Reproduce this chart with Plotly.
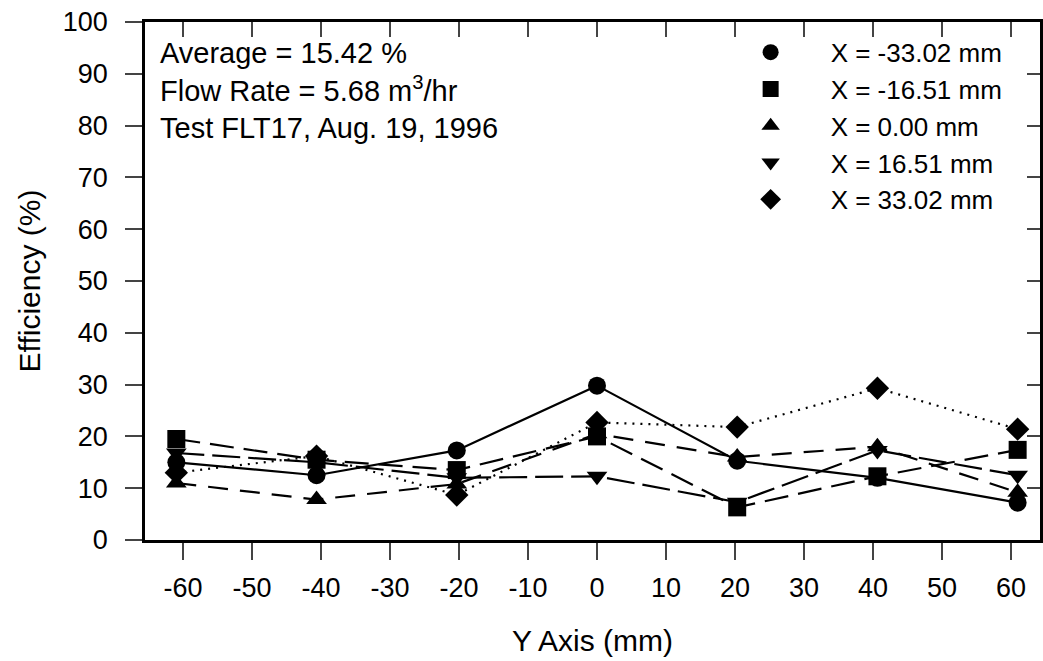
import plotly.graph_objects as go

# Probe positions along Y axis (mm)
y_pos = [-60.96, -40.64, -20.32, 0.0, 20.32, 40.64, 60.96]

# Efficiency (%) for each X position
eff_m33 = [15.0, 12.5, 17.3, 29.8, 15.3, 12.0, 7.2]
eff_m16 = [19.5, 15.5, 13.5, 20.0, 6.3, 12.3, 17.4]
eff_0 = [11.0, 7.8, 10.8, 20.5, 16.0, 18.0, 9.2]
eff_p16 = [16.8, 15.0, 12.0, 12.3, 7.3, 17.3, 12.5]
eff_p33 = [13.0, 16.2, 8.7, 22.7, 21.8, 29.3, 21.4]

series_names = ["X = -33.02 mm", "X = -16.51 mm", "X = 0.00 mm", "X = 16.51 mm", "X = 33.02 mm"]
series_vals = [eff_m33, eff_m16, eff_0, eff_p16, eff_p33]
symbols = ["circle", "square", "triangle-up", "triangle-down", "diamond"]
dashes = ["solid", "24px,10px", "20px,12px", "28px,8px", "2px,6px"]

x_ticks = list(range(-60, 61, 10))
x_tick_text = [str(v) for v in x_ticks]
y_ticks = list(range(0, 101, 10))

FONT = "Liberation Sans, Arial, sans-serif"
fig = go.Figure()

for name, vals, sym, dash in zip(series_names, series_vals, symbols, dashes):
    fig.add_trace(go.Scatter(
        x=y_pos, y=vals, mode="lines+markers", showlegend=False,
        line=dict(color="black", width=2.2, dash=dash),
        marker=dict(symbol=sym, size=18, color="black"),
    ))

for name, sym in zip(series_names, symbols):
    fig.add_trace(go.Scatter(
        x=[None], y=[None], mode="markers", name=name,
        marker=dict(symbol=sym, size=19, color="black"),
    ))

# invisible trace to activate mirror axes
fig.add_trace(go.Scatter(x=[0], y=[0], xaxis="x2", yaxis="y2", mode="markers",
                         marker=dict(opacity=0), showlegend=False, hoverinfo="skip"))

xr = [-65.5, 64.2]
yr = [0, 100]
fig.update_layout(
    width=1043, height=661,
    margin=dict(l=145, r=3, t=22, b=121),
    paper_bgcolor="white", plot_bgcolor="white",
    font=dict(family=FONT, size=27, color="black"),
    xaxis=dict(range=xr, tickvals=x_ticks, ticktext=x_tick_text, ticks="outside", ticklen=17, tickwidth=2,
               showline=True, linewidth=2.5, linecolor="black", showgrid=False, zeroline=False,
               ticklabelstandoff=5,
               title=dict(text="Y Axis (mm)", font=dict(size=30), standoff=28),
               tickfont=dict(size=27)),
    yaxis=dict(range=yr, tickvals=y_ticks, ticks="outside", ticklen=17, tickwidth=2,
               showline=True, linewidth=2.5, linecolor="black", showgrid=False, zeroline=False,
               ticklabelstandoff=12,
               title=dict(text="Efficiency (%)", font=dict(size=30), standoff=14),
               tickfont=dict(size=27)),
    xaxis2=dict(range=xr, overlaying="x", side="top", tickvals=x_ticks, ticks="inside",
                ticklen=15, tickwidth=2, showline=True, linewidth=2.5, linecolor="black",
                showticklabels=False, showgrid=False, zeroline=False),
    yaxis2=dict(range=yr, overlaying="y", side="right", tickvals=y_ticks, ticks="inside",
                ticklen=13, tickwidth=2, showline=True, linewidth=2.5, linecolor="black",
                showticklabels=False, showgrid=False, zeroline=False),
    legend=dict(x=0.632, y=0.987, xanchor="left", yanchor="top", bgcolor="rgba(0,0,0,0)",
                font=dict(size=26), itemwidth=110, tracegroupgap=0),
    annotations=[dict(
        text="Average = 15.42 %<br>Flow Rate = 5.68 m<sup>3</sup>/hr<br>Test FLT17, Aug. 19, 1996",
        xref="paper", yref="paper", x=0.015, y=0.975, xanchor="left", yanchor="top",
        align="left", showarrow=False, font=dict(size=29))],
)

fig.write_html("out.html")
